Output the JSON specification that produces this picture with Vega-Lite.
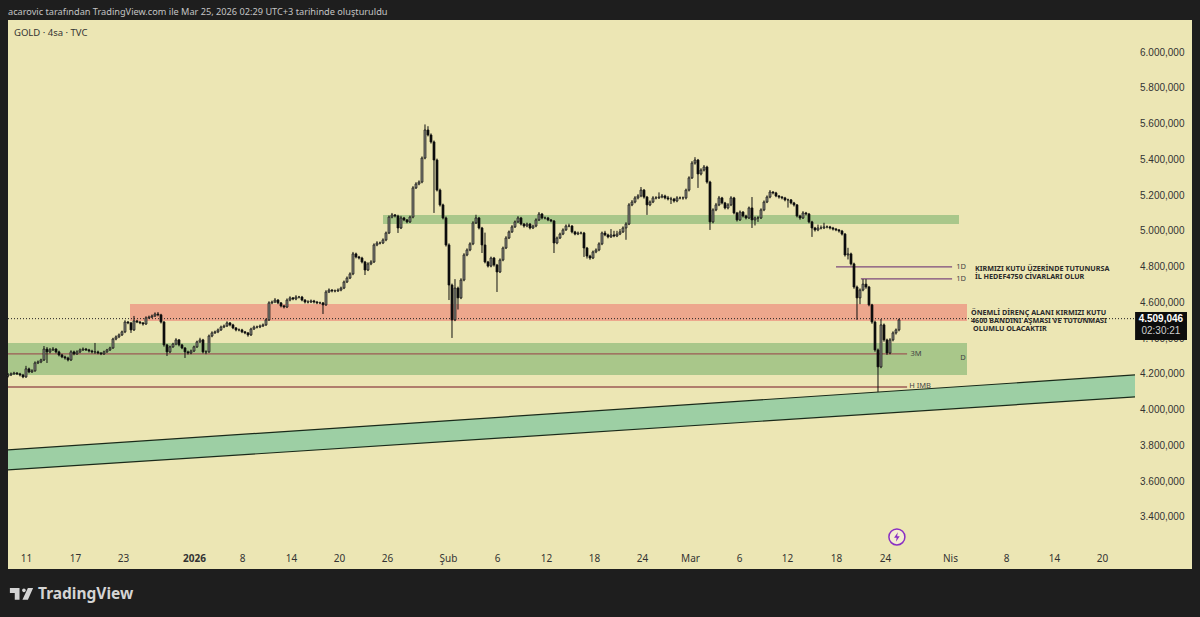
{
"$schema":"https://vega.github.io/schema/vega-lite/v6.json",
"width":1184,"height":549,
"autosize":{"type":"none"},
"padding":{"left":8,"top":20,"right":8,"bottom":48},
"background":"#1e1e1e",
"view":{"fill":"#ece6b4","stroke":null},
"config":{"font":"Noto Sans"},
"datasets":{"candles":[
{"n":0,"o":4188,"h":4205,"l":4180,"c":4194},
{"n":1,"o":4194,"h":4208,"l":4188,"c":4200},
{"n":2,"o":4200,"h":4212,"l":4195,"c":4205},
{"n":3,"o":4205,"h":4210,"l":4194,"c":4200},
{"n":4,"o":4200,"h":4206,"l":4186,"c":4194},
{"n":5,"o":4194,"h":4200,"l":4176,"c":4183},
{"n":6,"o":4183,"h":4245,"l":4178,"c":4228},
{"n":7,"o":4228,"h":4235,"l":4204,"c":4211},
{"n":8,"o":4211,"h":4226,"l":4205,"c":4217},
{"n":9,"o":4217,"h":4270,"l":4212,"c":4261},
{"n":10,"o":4261,"h":4275,"l":4255,"c":4267},
{"n":11,"o":4267,"h":4285,"l":4260,"c":4278},
{"n":12,"o":4278,"h":4356,"l":4272,"c":4339},
{"n":13,"o":4339,"h":4350,"l":4261,"c":4323},
{"n":14,"o":4323,"h":4345,"l":4315,"c":4334},
{"n":15,"o":4334,"h":4350,"l":4328,"c":4339},
{"n":16,"o":4339,"h":4344,"l":4315,"c":4323},
{"n":17,"o":4323,"h":4330,"l":4298,"c":4306},
{"n":18,"o":4306,"h":4312,"l":4288,"c":4295},
{"n":19,"o":4295,"h":4302,"l":4280,"c":4289},
{"n":20,"o":4289,"h":4296,"l":4270,"c":4278},
{"n":21,"o":4278,"h":4332,"l":4272,"c":4323},
{"n":22,"o":4323,"h":4330,"l":4304,"c":4312},
{"n":23,"o":4312,"h":4332,"l":4306,"c":4323},
{"n":24,"o":4323,"h":4342,"l":4316,"c":4334},
{"n":25,"o":4334,"h":4348,"l":4328,"c":4339},
{"n":26,"o":4339,"h":4345,"l":4328,"c":4334},
{"n":27,"o":4334,"h":4340,"l":4320,"c":4328},
{"n":28,"o":4328,"h":4335,"l":4315,"c":4323},
{"n":29,"o":4323,"h":4373,"l":4312,"c":4323},
{"n":30,"o":4323,"h":4330,"l":4310,"c":4317},
{"n":31,"o":4317,"h":4322,"l":4305,"c":4312},
{"n":32,"o":4312,"h":4330,"l":4306,"c":4323},
{"n":33,"o":4323,"h":4340,"l":4318,"c":4334},
{"n":34,"o":4334,"h":4352,"l":4328,"c":4345},
{"n":35,"o":4345,"h":4402,"l":4340,"c":4395},
{"n":36,"o":4395,"h":4415,"l":4388,"c":4407},
{"n":37,"o":4407,"h":4426,"l":4400,"c":4418},
{"n":38,"o":4418,"h":4442,"l":4412,"c":4435},
{"n":39,"o":4435,"h":4500,"l":4428,"c":4490},
{"n":40,"o":4490,"h":4496,"l":4478,"c":4485},
{"n":41,"o":4485,"h":4490,"l":4429,"c":4446},
{"n":42,"o":4446,"h":4524,"l":4440,"c":4496},
{"n":43,"o":4496,"h":4502,"l":4484,"c":4490},
{"n":44,"o":4490,"h":4496,"l":4478,"c":4485},
{"n":45,"o":4485,"h":4490,"l":4470,"c":4479},
{"n":46,"o":4479,"h":4522,"l":4474,"c":4513},
{"n":47,"o":4513,"h":4526,"l":4508,"c":4518},
{"n":48,"o":4518,"h":4532,"l":4512,"c":4524},
{"n":49,"o":4524,"h":4544,"l":4518,"c":4535},
{"n":50,"o":4535,"h":4546,"l":4522,"c":4530},
{"n":51,"o":4530,"h":4536,"l":4482,"c":4490},
{"n":52,"o":4490,"h":4496,"l":4352,"c":4362},
{"n":53,"o":4362,"h":4368,"l":4300,"c":4323},
{"n":54,"o":4323,"h":4358,"l":4316,"c":4351},
{"n":55,"o":4351,"h":4374,"l":4346,"c":4367},
{"n":56,"o":4367,"h":4400,"l":4360,"c":4390},
{"n":57,"o":4390,"h":4395,"l":4354,"c":4362},
{"n":58,"o":4362,"h":4368,"l":4338,"c":4345},
{"n":59,"o":4345,"h":4350,"l":4289,"c":4323},
{"n":60,"o":4323,"h":4330,"l":4308,"c":4317},
{"n":61,"o":4317,"h":4336,"l":4310,"c":4328},
{"n":62,"o":4328,"h":4358,"l":4322,"c":4351},
{"n":63,"o":4351,"h":4386,"l":4345,"c":4379},
{"n":64,"o":4379,"h":4402,"l":4372,"c":4390},
{"n":65,"o":4390,"h":4396,"l":4315,"c":4323},
{"n":66,"o":4323,"h":4332,"l":4310,"c":4323},
{"n":67,"o":4323,"h":4420,"l":4318,"c":4412},
{"n":68,"o":4412,"h":4438,"l":4405,"c":4429},
{"n":69,"o":4429,"h":4442,"l":4424,"c":4435},
{"n":70,"o":4435,"h":4454,"l":4428,"c":4446},
{"n":71,"o":4446,"h":4470,"l":4440,"c":4462},
{"n":72,"o":4462,"h":4476,"l":4456,"c":4468},
{"n":73,"o":4468,"h":4494,"l":4462,"c":4485},
{"n":74,"o":4485,"h":4490,"l":4466,"c":4474},
{"n":75,"o":4474,"h":4480,"l":4450,"c":4457},
{"n":76,"o":4457,"h":4462,"l":4438,"c":4446},
{"n":77,"o":4446,"h":4454,"l":4438,"c":4446},
{"n":78,"o":4446,"h":4452,"l":4428,"c":4435},
{"n":79,"o":4435,"h":4440,"l":4422,"c":4429},
{"n":80,"o":4429,"h":4434,"l":4408,"c":4418},
{"n":81,"o":4418,"h":4458,"l":4412,"c":4451},
{"n":82,"o":4451,"h":4470,"l":4446,"c":4462},
{"n":83,"o":4462,"h":4470,"l":4454,"c":4462},
{"n":84,"o":4462,"h":4476,"l":4456,"c":4468},
{"n":85,"o":4468,"h":4482,"l":4462,"c":4474},
{"n":86,"o":4474,"h":4510,"l":4468,"c":4502},
{"n":87,"o":4502,"h":4606,"l":4496,"c":4597},
{"n":88,"o":4597,"h":4610,"l":4590,"c":4602},
{"n":89,"o":4602,"h":4624,"l":4596,"c":4613},
{"n":90,"o":4613,"h":4618,"l":4590,"c":4597},
{"n":91,"o":4597,"h":4602,"l":4572,"c":4580},
{"n":92,"o":4580,"h":4586,"l":4566,"c":4574},
{"n":93,"o":4574,"h":4622,"l":4568,"c":4613},
{"n":94,"o":4613,"h":4634,"l":4606,"c":4625},
{"n":95,"o":4625,"h":4630,"l":4612,"c":4619},
{"n":96,"o":4619,"h":4640,"l":4612,"c":4630},
{"n":97,"o":4630,"h":4636,"l":4622,"c":4630},
{"n":98,"o":4630,"h":4636,"l":4606,"c":4613},
{"n":99,"o":4613,"h":4618,"l":4594,"c":4602},
{"n":100,"o":4602,"h":4612,"l":4594,"c":4602},
{"n":101,"o":4602,"h":4616,"l":4596,"c":4608},
{"n":102,"o":4608,"h":4614,"l":4594,"c":4602},
{"n":103,"o":4602,"h":4608,"l":4590,"c":4597},
{"n":104,"o":4597,"h":4604,"l":4590,"c":4597},
{"n":105,"o":4597,"h":4602,"l":4535,"c":4586},
{"n":106,"o":4586,"h":4668,"l":4580,"c":4658},
{"n":107,"o":4658,"h":4678,"l":4652,"c":4669},
{"n":108,"o":4669,"h":4674,"l":4656,"c":4664},
{"n":109,"o":4664,"h":4672,"l":4656,"c":4664},
{"n":110,"o":4664,"h":4678,"l":4658,"c":4669},
{"n":111,"o":4669,"h":4688,"l":4662,"c":4680},
{"n":112,"o":4680,"h":4722,"l":4674,"c":4714},
{"n":113,"o":4714,"h":4745,"l":4708,"c":4736},
{"n":114,"o":4736,"h":4768,"l":4730,"c":4759},
{"n":115,"o":4759,"h":4882,"l":4752,"c":4871},
{"n":116,"o":4871,"h":4878,"l":4846,"c":4854},
{"n":117,"o":4854,"h":4860,"l":4840,"c":4848},
{"n":118,"o":4848,"h":4855,"l":4818,"c":4826},
{"n":119,"o":4826,"h":4832,"l":4753,"c":4781},
{"n":120,"o":4781,"h":4824,"l":4775,"c":4815},
{"n":121,"o":4815,"h":4836,"l":4808,"c":4826},
{"n":122,"o":4826,"h":4930,"l":4820,"c":4921},
{"n":123,"o":4921,"h":4942,"l":4914,"c":4932},
{"n":124,"o":4932,"h":4940,"l":4924,"c":4932},
{"n":125,"o":4932,"h":4958,"l":4926,"c":4949},
{"n":126,"o":4949,"h":4996,"l":4942,"c":4988},
{"n":127,"o":4988,"h":5086,"l":4982,"c":5077},
{"n":128,"o":5077,"h":5100,"l":5070,"c":5089},
{"n":129,"o":5089,"h":5094,"l":5075,"c":5083},
{"n":130,"o":5083,"h":5090,"l":4988,"c":5016},
{"n":131,"o":5016,"h":5084,"l":5010,"c":5072},
{"n":132,"o":5072,"h":5078,"l":5054,"c":5061},
{"n":133,"o":5061,"h":5066,"l":5042,"c":5050},
{"n":134,"o":5050,"h":5085,"l":5044,"c":5077},
{"n":135,"o":5077,"h":5250,"l":5070,"c":5240},
{"n":136,"o":5240,"h":5272,"l":5234,"c":5262},
{"n":137,"o":5262,"h":5282,"l":5255,"c":5273},
{"n":138,"o":5273,"h":5416,"l":5266,"c":5407},
{"n":139,"o":5407,"h":5595,"l":5400,"c":5564},
{"n":140,"o":5564,"h":5585,"l":5528,"c":5536},
{"n":141,"o":5536,"h":5545,"l":5488,"c":5497},
{"n":142,"o":5497,"h":5505,"l":5100,"c":5396},
{"n":143,"o":5396,"h":5404,"l":5220,"c":5228},
{"n":144,"o":5228,"h":5236,"l":5136,"c":5145},
{"n":145,"o":5145,"h":5152,"l":5064,"c":5072},
{"n":146,"o":5072,"h":5080,"l":4912,"c":4921},
{"n":147,"o":4921,"h":4930,"l":4613,"c":4697},
{"n":148,"o":4697,"h":4705,"l":4401,"c":4502},
{"n":149,"o":4502,"h":4730,"l":4495,"c":4680},
{"n":150,"o":4680,"h":4688,"l":4560,"c":4625},
{"n":151,"o":4625,"h":4735,"l":4618,"c":4725},
{"n":152,"o":4725,"h":4875,"l":4718,"c":4865},
{"n":153,"o":4865,"h":4902,"l":4858,"c":4893},
{"n":154,"o":4893,"h":4936,"l":4886,"c":4927},
{"n":155,"o":4927,"h":5054,"l":4920,"c":5044},
{"n":156,"o":5044,"h":5090,"l":5038,"c":5072},
{"n":157,"o":5072,"h":5078,"l":5008,"c":5016},
{"n":158,"o":5016,"h":5022,"l":4876,"c":4921},
{"n":159,"o":4921,"h":4990,"l":4818,"c":4826},
{"n":160,"o":4826,"h":4832,"l":4795,"c":4803},
{"n":161,"o":4803,"h":4856,"l":4796,"c":4848},
{"n":162,"o":4848,"h":4854,"l":4800,"c":4809},
{"n":163,"o":4809,"h":4815,"l":4658,"c":4770},
{"n":164,"o":4770,"h":4846,"l":4764,"c":4837},
{"n":165,"o":4837,"h":4912,"l":4830,"c":4904},
{"n":166,"o":4904,"h":4970,"l":4898,"c":4960},
{"n":167,"o":4960,"h":5002,"l":4954,"c":4994},
{"n":168,"o":4994,"h":5032,"l":4988,"c":5022},
{"n":169,"o":5022,"h":5058,"l":5016,"c":5050},
{"n":170,"o":5050,"h":5082,"l":5044,"c":5072},
{"n":171,"o":5072,"h":5078,"l":5030,"c":5038},
{"n":172,"o":5038,"h":5044,"l":5018,"c":5027},
{"n":173,"o":5027,"h":5046,"l":5020,"c":5038},
{"n":174,"o":5038,"h":5044,"l":5008,"c":5016},
{"n":175,"o":5016,"h":5035,"l":5010,"c":5027},
{"n":176,"o":5027,"h":5070,"l":5020,"c":5061},
{"n":177,"o":5061,"h":5105,"l":5055,"c":5094},
{"n":178,"o":5094,"h":5100,"l":5064,"c":5072},
{"n":179,"o":5072,"h":5080,"l":5064,"c":5072},
{"n":180,"o":5072,"h":5078,"l":5054,"c":5061},
{"n":181,"o":5061,"h":5066,"l":5048,"c":5055},
{"n":182,"o":5055,"h":5060,"l":4876,"c":4932},
{"n":183,"o":4932,"h":4968,"l":4925,"c":4960},
{"n":184,"o":4960,"h":4990,"l":4954,"c":4982},
{"n":185,"o":4982,"h":5014,"l":4976,"c":5005},
{"n":186,"o":5005,"h":5036,"l":5000,"c":5027},
{"n":187,"o":5027,"h":5040,"l":5020,"c":5027},
{"n":188,"o":5027,"h":5032,"l":4986,"c":4994},
{"n":189,"o":4994,"h":5000,"l":4975,"c":4982},
{"n":190,"o":4982,"h":4996,"l":4976,"c":4988},
{"n":191,"o":4988,"h":4996,"l":4980,"c":4988},
{"n":192,"o":4988,"h":4994,"l":4854,"c":4904},
{"n":193,"o":4904,"h":4910,"l":4845,"c":4859},
{"n":194,"o":4859,"h":4866,"l":4838,"c":4848},
{"n":195,"o":4848,"h":4890,"l":4842,"c":4882},
{"n":196,"o":4882,"h":4902,"l":4875,"c":4893},
{"n":197,"o":4893,"h":4936,"l":4886,"c":4927},
{"n":198,"o":4927,"h":4996,"l":4920,"c":4988},
{"n":199,"o":4988,"h":5000,"l":4970,"c":4977},
{"n":200,"o":4977,"h":4984,"l":4958,"c":4966},
{"n":201,"o":4966,"h":5010,"l":4960,"c":4977},
{"n":202,"o":4977,"h":5000,"l":4964,"c":4971},
{"n":203,"o":4971,"h":5000,"l":4965,"c":4982},
{"n":204,"o":4982,"h":5010,"l":4976,"c":4994},
{"n":205,"o":4994,"h":5025,"l":4988,"c":5016},
{"n":206,"o":5016,"h":5048,"l":4950,"c":5038},
{"n":207,"o":5038,"h":5155,"l":5032,"c":5145},
{"n":208,"o":5145,"h":5172,"l":5138,"c":5161},
{"n":209,"o":5161,"h":5194,"l":5154,"c":5184},
{"n":210,"o":5184,"h":5205,"l":5176,"c":5195},
{"n":211,"o":5195,"h":5245,"l":5188,"c":5228},
{"n":212,"o":5228,"h":5234,"l":5180,"c":5189},
{"n":213,"o":5189,"h":5195,"l":5089,"c":5145},
{"n":214,"o":5145,"h":5170,"l":5138,"c":5161},
{"n":215,"o":5161,"h":5194,"l":5155,"c":5184},
{"n":216,"o":5184,"h":5194,"l":5176,"c":5184},
{"n":217,"o":5184,"h":5215,"l":5178,"c":5189},
{"n":218,"o":5189,"h":5206,"l":5182,"c":5195},
{"n":219,"o":5195,"h":5202,"l":5176,"c":5184},
{"n":220,"o":5184,"h":5195,"l":5170,"c":5178},
{"n":221,"o":5178,"h":5190,"l":5150,"c":5178},
{"n":222,"o":5178,"h":5184,"l":5158,"c":5167},
{"n":223,"o":5167,"h":5194,"l":5160,"c":5184},
{"n":224,"o":5184,"h":5192,"l":5176,"c":5184},
{"n":225,"o":5184,"h":5192,"l":5174,"c":5184},
{"n":226,"o":5184,"h":5236,"l":5176,"c":5228},
{"n":227,"o":5228,"h":5305,"l":5220,"c":5296},
{"n":228,"o":5296,"h":5390,"l":5290,"c":5379},
{"n":229,"o":5379,"h":5412,"l":5370,"c":5396},
{"n":230,"o":5396,"h":5402,"l":5240,"c":5318},
{"n":231,"o":5318,"h":5350,"l":5310,"c":5340},
{"n":232,"o":5340,"h":5368,"l":5332,"c":5357},
{"n":233,"o":5357,"h":5364,"l":5264,"c":5273},
{"n":234,"o":5273,"h":5280,"l":5005,"c":5050},
{"n":235,"o":5050,"h":5126,"l":5042,"c":5117},
{"n":236,"o":5117,"h":5156,"l":5110,"c":5145},
{"n":237,"o":5145,"h":5195,"l":5138,"c":5184},
{"n":238,"o":5184,"h":5190,"l":5148,"c":5156},
{"n":239,"o":5156,"h":5162,"l":5120,"c":5128},
{"n":240,"o":5128,"h":5155,"l":5120,"c":5145},
{"n":241,"o":5145,"h":5194,"l":5138,"c":5184},
{"n":242,"o":5184,"h":5190,"l":5092,"c":5100},
{"n":243,"o":5100,"h":5106,"l":5052,"c":5061},
{"n":244,"o":5061,"h":5114,"l":5055,"c":5105},
{"n":245,"o":5105,"h":5110,"l":5075,"c":5083},
{"n":246,"o":5083,"h":5090,"l":5064,"c":5072},
{"n":247,"o":5072,"h":5136,"l":5066,"c":5128},
{"n":248,"o":5128,"h":5189,"l":5016,"c":5061},
{"n":249,"o":5061,"h":5080,"l":5030,"c":5072},
{"n":250,"o":5072,"h":5082,"l":5050,"c":5072},
{"n":251,"o":5072,"h":5126,"l":5066,"c":5117},
{"n":252,"o":5117,"h":5170,"l":5110,"c":5161},
{"n":253,"o":5161,"h":5198,"l":5155,"c":5189},
{"n":254,"o":5189,"h":5228,"l":5182,"c":5217},
{"n":255,"o":5217,"h":5222,"l":5204,"c":5212},
{"n":256,"o":5212,"h":5218,"l":5188,"c":5195},
{"n":257,"o":5195,"h":5200,"l":5180,"c":5189},
{"n":258,"o":5189,"h":5195,"l":5176,"c":5184},
{"n":259,"o":5184,"h":5190,"l":5165,"c":5173},
{"n":260,"o":5173,"h":5180,"l":5130,"c":5173},
{"n":261,"o":5173,"h":5178,"l":5148,"c":5156},
{"n":262,"o":5156,"h":5162,"l":5136,"c":5145},
{"n":263,"o":5145,"h":5150,"l":5075,"c":5083},
{"n":264,"o":5083,"h":5090,"l":5062,"c":5072},
{"n":265,"o":5072,"h":5110,"l":5066,"c":5100},
{"n":266,"o":5100,"h":5106,"l":5086,"c":5094},
{"n":267,"o":5094,"h":5100,"l":5042,"c":5050},
{"n":268,"o":5050,"h":5056,"l":4966,"c":5016},
{"n":269,"o":5016,"h":5022,"l":4996,"c":5005},
{"n":270,"o":5005,"h":5035,"l":4998,"c":5016},
{"n":271,"o":5016,"h":5030,"l":5008,"c":5016},
{"n":272,"o":5016,"h":5045,"l":5010,"c":5022},
{"n":273,"o":5022,"h":5030,"l":5014,"c":5022},
{"n":274,"o":5022,"h":5028,"l":5008,"c":5016},
{"n":275,"o":5016,"h":5022,"l":5002,"c":5010},
{"n":276,"o":5010,"h":5016,"l":4998,"c":5005},
{"n":277,"o":5005,"h":5010,"l":4990,"c":4999},
{"n":278,"o":4999,"h":5005,"l":4974,"c":4982},
{"n":279,"o":4982,"h":4988,"l":4856,"c":4865},
{"n":280,"o":4865,"h":4905,"l":4840,"c":4871},
{"n":281,"o":4871,"h":4878,"l":4806,"c":4815},
{"n":282,"o":4815,"h":4822,"l":4676,"c":4686},
{"n":283,"o":4686,"h":4694,"l":4502,"c":4625},
{"n":284,"o":4625,"h":4678,"l":4590,"c":4669},
{"n":285,"o":4669,"h":4730,"l":4662,"c":4702},
{"n":286,"o":4702,"h":4730,"l":4676,"c":4686},
{"n":287,"o":4686,"h":4692,"l":4578,"c":4586},
{"n":288,"o":4586,"h":4592,"l":4480,"c":4490},
{"n":289,"o":4490,"h":4498,"l":4324,"c":4334},
{"n":290,"o":4334,"h":4342,"l":4099,"c":4239},
{"n":291,"o":4239,"h":4507,"l":4232,"c":4474},
{"n":292,"o":4474,"h":4482,"l":4380,"c":4390},
{"n":293,"o":4390,"h":4397,"l":4306,"c":4317},
{"n":294,"o":4317,"h":4400,"l":4310,"c":4390},
{"n":295,"o":4390,"h":4438,"l":4382,"c":4429},
{"n":296,"o":4429,"h":4454,"l":4420,"c":4446},
{"n":297,"o":4446,"h":4509,"l":4438,"c":4502}
]},
"encoding":{
"x":{"field":"n","type":"quantitative","title":null,
"scale":{"domain":[0,394.67],"nice":false,"zero":false,"padding":0},
"axis":{"orient":"bottom","domain":false,"ticks":false,"grid":false,"labelPadding":-16,"labelFontSize":10,"labelColor":"#333333","labelOverlap":false,
"values":[6,22.33,38.33,62,78,94.33,110.33,126.33,146.67,163,179.33,195.33,211.33,227.33,243.67,259.67,276,292.33,314,332.67,348.67,364.67],
"labelExpr":"{'6':'11','22.33':'17','38.33':'23','62':'2026','78':'8','94.33':'14','110.33':'20','126.33':'26','146.67':'Şub','163':'6','179.33':'12','195.33':'18','211.33':'24','227.33':'Mar','243.67':'6','259.67':'12','276':'18','292.33':'24','314':'Nis','332.67':'8','348.67':'14','364.67':'20'}[datum.value]",
"labelFontWeight":{"condition":{"test":"datum.value == 62","value":"bold"},"value":"normal"}}},
"y":{"field":"p","type":"quantitative","title":null,
"scale":{"domain":[3109,6179],"nice":false,"zero":false},
"axis":{"orient":"right","domain":false,"ticks":false,"grid":false,"labelPadding":-8,"labelAlign":"right","labelFont":"Liberation Sans","labelFontSize":10,"labelColor":"#333333","values":[3400,3600,3800,4000,4200,4400,4600,4800,5000,5200,5400,5600,5800,6000],
"labelExpr":"substring(format(datum.value,'d'),0,1)+'.'+substring(format(datum.value,'d'),1)+',000'"}}
},
"layer":[
{"data":{"values":[{"n":0,"p":4373,"n2":319.67,"p2":4194},{"n":125,"p":5089,"n2":317,"p2":5038}]},
"mark":{"type":"rect","color":"#a9c78a"},
"encoding":{"x2":{"field":"n2"},"y2":{"field":"p2"}}},
{"data":{"values":[{"n":40.67,"p":4591,"n2":319.67,"p2":4496}]},
"mark":{"type":"rect","color":"#eda78d"},
"encoding":{"x2":{"field":"n2"},"y2":{"field":"p2"}}},
{"data":{"values":[{"n":0,"p":3775,"p2":3663},{"n":375.67,"p":4194,"p2":4071}]},
"mark":{"type":"area","color":"#9dcfa4"},
"encoding":{"y2":{"field":"p2"}}},
{"data":{"values":[{"n":0,"p":3775,"n2":375.67,"p2":4194},{"n":0,"p":3663,"n2":375.67,"p2":4071}]},
"mark":{"type":"rule","color":"#1a2a1a","strokeWidth":1.2},
"encoding":{"x2":{"field":"n2"},"y2":{"field":"p2"}}},
{"data":{"values":[{"n":0,"p":4312,"n2":299.7},{"n":0,"p":4127,"n2":299.7}]},
"mark":{"type":"rule","color":"#9c5a55","strokeWidth":1.4},
"encoding":{"x2":{"field":"n2"}}},
{"data":{"values":[{"n":276,"p":4798,"n2":314.7},{"n":284.3,"p":4731,"n2":314.7}]},
"mark":{"type":"rule","color":"#7d4a7d","strokeWidth":1.2},
"encoding":{"x2":{"field":"n2"}}},
{"data":{"values":[{"n":0,"p":4509,"n2":375.7}]},
"mark":{"type":"rule","color":"#222222","strokeWidth":1,"strokeDash":[1,2]},
"encoding":{"x2":{"field":"n2"}}},
{"data":{"name":"candles"},
"mark":{"type":"rule","color":"#111111","strokeWidth":1},
"encoding":{"y":{"field":"l","type":"quantitative"},"y2":{"field":"h"}}},
{"data":{"name":"candles"},
"mark":{"type":"bar","width":2,"stroke":"#111111","strokeWidth":0.7},
"encoding":{"y":{"field":"o","type":"quantitative"},"y2":{"field":"c"},
"color":{"condition":{"test":"datum.c >= datum.o","value":"#85857c"},"value":"#0c0c0c"}}},
{"data":{"values":[{"n":375.7,"p":4546,"n2":393,"p2":4390}]},
"mark":{"type":"rect","color":"#0d0d0d"},
"encoding":{"x2":{"field":"n2"},"y2":{"field":"p2"}}},
{"data":{"values":[{"n":384.3,"p":4507,"t":"4.509,046"}]},
"mark":{"type":"text","color":"#ffffff","fontWeight":"bold","fontSize":10,"font":"Liberation Sans"},
"encoding":{"text":{"field":"t"}}},
{"data":{"values":[{"n":384.3,"p":4440,"t":"02:30:21"}]},
"mark":{"type":"text","color":"#d0d0d0","fontSize":10,"font":"Liberation Sans"},
"encoding":{"text":{"field":"t"}}},
{"data":{"values":[
{"n":322.3,"p":4787,"t":"KIRMIZI KUTU ÜZERİNDE TUTUNURSA"},
{"n":322.3,"p":4742,"t":"İL HEDEF4750 CİVARLARI OLUR"},
{"n":321,"p":4541,"t":"ÖNEMLİ DİRENÇ ALANI KIRMIZI KUTU"},
{"n":321,"p":4496,"t":"4600 BANDINI AŞMASI VE TUTUNMASI"},
{"n":321.7,"p":4451,"t":"OLUMLU  OLACAKTIR"}]},
"mark":{"type":"text","align":"left","color":"#2a2a2a","fontSize":7.2,"fontWeight":"bold"},
"encoding":{"text":{"field":"t"}}},
{"data":{"values":[
{"n":317.7,"p":4798,"t":"1D"},
{"n":317.7,"p":4731,"t":"1D"},
{"n":302.7,"p":4312,"t":"3M"},
{"n":318.3,"p":4289,"t":"D"},
{"n":304,"p":4133,"t":"H IMB"}]},
"mark":{"type":"text","color":"#444444","fontSize":7.5},
"encoding":{"text":{"field":"t"}}},
{"data":{"values":[{"n":2,"p":6107,"t":"GOLD · 4sa · TVC"}]},
"mark":{"type":"text","align":"left","color":"#333333","fontSize":9.5},
"encoding":{"text":{"field":"t"}}},
{"data":{"values":[{"n":0,"p":6224,"t":"acarovic tarafından TradingView.com ile Mar 25, 2026 02:29 UTC+3 tarihinde oluşturuldu"}]},
"mark":{"type":"text","align":"left","color":"#c4c4c4","fontSize":9.2},
"encoding":{"text":{"field":"t"}}},
{"data":{"values":[{"n":10,"p":2970,"t":"TradingView"}]},
"mark":{"type":"text","align":"left","color":"#d4d4d4","fontSize":15.5,"fontWeight":"bold"},
"encoding":{"text":{"field":"t"}}},
{"data":{"values":[{"n":4.5,"p":2970}]},
"mark":{"type":"point","filled":true,"opacity":1,"color":"#d4d4d4","size":540,
"shape":"M-1 -.5L-.17 -.5L-.17 .5L-.58 .5L-.58 -.08L-1 -.08ZM.05 -.3a.16 .16 0 1 0 .32 0a.16 .16 0 1 0 -.32 0ZM.55 -.5L1 -.5L.55 .5L.08 .5Z"}},
{"data":{"values":[{"n":296.3,"p":3288}]},
"mark":{"type":"point","shape":"circle","filled":true,"opacity":1,"fill":"#f4eed0","stroke":"#8a2fc4","strokeWidth":1.5,"size":256}},
{"data":{"values":[{"n":296.3,"p":3288}]},
"mark":{"type":"point","filled":true,"opacity":1,"color":"#8a2fc4","size":90,
"shape":"M.2 -1L-.6 .15L-.05 .15L-.2 1L.6 -.15L.05 -.15Z"}}
]
}
